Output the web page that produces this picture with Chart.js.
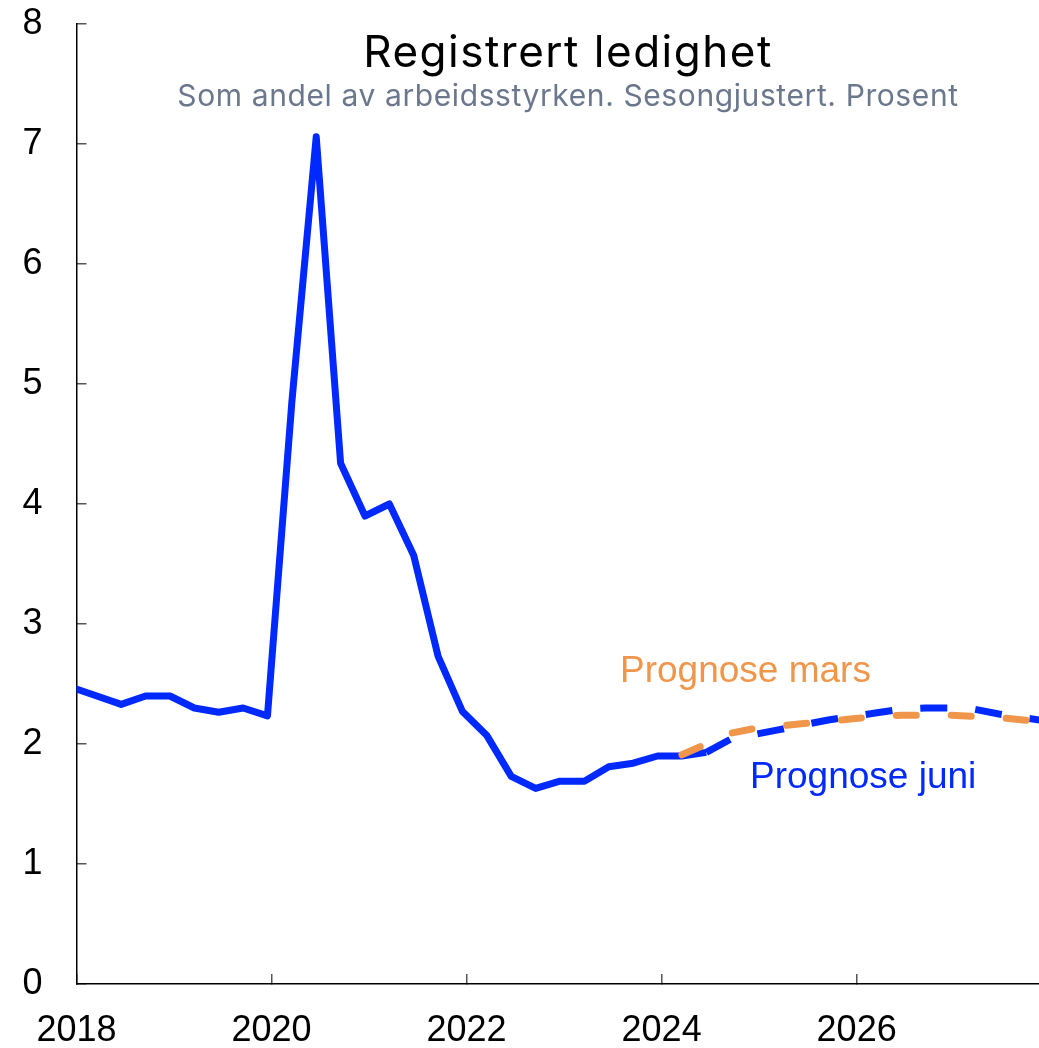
<!DOCTYPE html>
<html>
<head>
<meta charset="utf-8">
<script src="https://cdn.jsdelivr.net/npm/chart.js@4.4.1/dist/chart.umd.min.js"></script>
<style>
  body { margin: 0; background: #fff; }
  canvas { display: block; }
</style>
</head>
<body>
<canvas id="ledighetChart" width="1039" height="1048"></canvas>
<script>
// Registrert ledighet, kvartalstall
var historikkKvartal = ["2017K4",
    "2018K1", "2018K2", "2018K3", "2018K4",
    "2019K1", "2019K2", "2019K3", "2019K4",
    "2020K1", "2020K2", "2020K3", "2020K4",
    "2021K1", "2021K2", "2021K3", "2021K4",
    "2022K1", "2022K2", "2022K3", "2022K4",
    "2023K1", "2023K2", "2023K3", "2023K4",
    "2024K1", "2024K2"];
var historikk = [2.47,
    2.40, 2.33, 2.40, 2.40,
    2.30, 2.265, 2.30, 2.235,
    4.85, 7.06, 4.34, 3.90,
    4.00, 3.57, 2.73, 2.27,
    2.07, 1.73, 1.63, 1.69,
    1.69, 1.81, 1.84, 1.90,
    1.90, 1.93];

var juniKvartal = ["2024K2", "2024K3", "2024K4",
    "2025K1", "2025K2", "2025K3", "2025K4",
    "2026K1", "2026K2", "2026K3", "2026K4",
    "2027K1", "2027K2", "2027K3", "2027K4"];
var prognoseJuni = [1.93, 2.04, 2.08,
    2.12, 2.16, 2.20, 2.23,
    2.26, 2.29, 2.30, 2.30,
    2.29, 2.25, 2.22, 2.19];

var marsKvartal = ["2024K1", "2024K2", "2024K3", "2024K4",
    "2025K1", "2025K2", "2025K3", "2025K4",
    "2026K1", "2026K2", "2026K3", "2026K4",
    "2027K1", "2027K2", "2027K3", "2027K4"];
var prognoseMars = [1.91, 2.00, 2.09, 2.13,
    2.15, 2.17, 2.19, 2.21,
    2.23, 2.24, 2.24, 2.24,
    2.23, 2.22, 2.20, 2.18];

var aarTicks = [2018, 2020, 2022, 2024, 2026];
var yTicks = [0, 1, 2, 3, 4, 5, 6, 7, 8];

var blaa = "#0029ff";
var oransje = "#f0964b";

// kvartal -> desimalår (midt i siste måned i kvartalet)
function tilAar(k) {
    var aar = parseInt(k.slice(0, 4));
    var q = parseInt(k.slice(5));
    return aar + (3 * q - 0.5) / 12;
}
function punkter(kvartaler, verdier) {
    return kvartaler.map(function (k, i) { return { x: tilAar(k), y: verdier[i] }; });
}

var tekstPlugin = {
    id: "tekster",
    afterDatasetsDraw: function (chart) {
        var c = chart.ctx;
        c.save();
        c.textBaseline = "alphabetic";
        c.textAlign = "center";
        c.fillStyle = "#000";
        c.font = "44px Inter";
        c.letterSpacing = "1.5px";
        c.fillText("Registrert ledighet", 568, 67);
        c.fillStyle = "#6b778c";
        c.font = "30px Inter";
        c.letterSpacing = "0.6px";
        c.fillText("Som andel av arbeidsstyrken. Sesongjustert. Prosent", 568, 106);
        c.letterSpacing = "0px";
        c.textAlign = "left";
        c.font = "37px 'Liberation Sans', Arial";
        c.fillStyle = oransje;
        c.fillText("Prognose mars", 620, 682);
        c.fillStyle = blaa;
        c.fillText("Prognose juni", 750, 788);
        c.restore();
    }
};

new Chart("ledighetChart", {
    type: "line",
    data: {
        datasets: [{
            label: "Prognose mars",
            data: punkter(marsKvartal, prognoseMars),
            borderColor: oransje,
            borderWidth: 7,
            borderDash: [20, 35],
            borderCapStyle: "round",
            pointRadius: 0,
            clip: 0,
            order: 0
        }, {
            label: "Prognose juni",
            data: punkter(juniKvartal, prognoseJuni),
            borderColor: blaa,
            borderWidth: 7,
            borderDash: [27, 28],
            pointRadius: 0,
            clip: 0,
            order: 1
        }, {
            label: "Registrert ledighet",
            data: punkter(historikkKvartal, historikk),
            borderColor: blaa,
            borderWidth: 7,
            borderJoinStyle: "round",
            pointRadius: 0,
            clip: 0,
            order: 2
        }]
    },
    options: {
        responsive: false,
        animation: false,
        layout: { padding: { top: 24, right: 0, bottom: 0, left: 0 } },
        plugins: {
            legend: { display: false },
            tooltip: { enabled: false }
        },
        scales: {
            x: {
                type: "linear",
                min: 2018,
                max: 2027.87,
                afterBuildTicks: function (s) {
                    s.ticks = aarTicks.map(function (v) { return { value: v }; });
                },
                afterFit: function (s) {
                    s.height = 64;
                    s.paddingLeft = 0;
                    s.paddingRight = 0;
                },
                ticks: {
                    color: "#000",
                    font: { family: "'Liberation Sans', Arial", size: 36 },
                    padding: 35,
                    maxRotation: 0,
                    callback: function (v) { return String(v); }
                },
                grid: { drawOnChartArea: false, tickLength: -10, color: "#555", lineWidth: 1.5 },
                border: { color: "#000", width: 1.5 }
            },
            y: {
                min: 0,
                max: 8,
                afterBuildTicks: function (s) {
                    s.ticks = yTicks.map(function (v) { return { value: v }; });
                },
                afterFit: function (s) {
                    s.width = 76.5;
                    s.paddingTop = 0;
                    s.paddingBottom = 0;
                },
                ticks: {
                    color: "#000",
                    font: { family: "'Liberation Sans', Arial", size: 36 },
                    padding: 44,
                    crossAlign: "near"
                },
                grid: { drawOnChartArea: false, tickLength: -10, color: "#555", lineWidth: 1.5 },
                border: { color: "#000", width: 1.5 }
            }
        }
    },
    plugins: [tekstPlugin]
});
</script>
</body>
</html>
